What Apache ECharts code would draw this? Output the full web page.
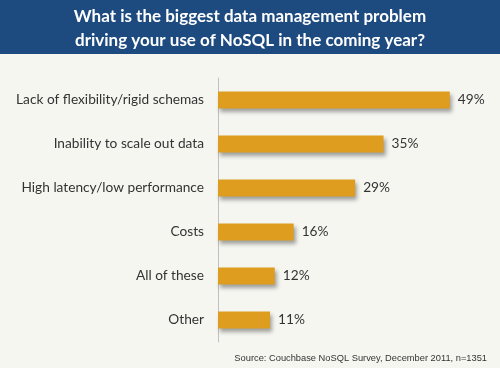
<!DOCTYPE html>
<html><head><meta charset="utf-8">
<script src="https://cdn.jsdelivr.net/npm/echarts@6/dist/echarts.min.js"></script>
<style>html,body{margin:0;padding:0;background:#f6f6f1}#c{width:500px;height:368px}</style>
</head><body><div id="c"></div>
<script>
const categories = ["Lack of flexibility/rigid schemas","Inability to scale out data","High latency/low performance","Costs","All of these","Other"];
const values = [49, 35, 29, 16, 12, 11];
const titleText = "What is the biggest data management problem\ndriving your use of NoSQL in the coming year?";
const sourceText = "Source: Couchbase NoSQL Survey, December 2011, n=1351";

const chart = echarts.init(document.getElementById('c'), null, {renderer:'canvas'});
chart.setOption({
  backgroundColor: '#f6f6f1',
  animation: false,
  graphic: [
    {type:'rect', left:0, top:0, shape:{width:500, height:54}, style:{fill:'#1d4a7f'}, z:0},
    {type:'text', left:'center', top:5, style:{text:titleText, fill:'#ffffff', font:'bold 17px Lato, "Open Sans", sans-serif', textAlign:'center', lineHeight:24}, z:1},
    {type:'text', right:13, top:354, style:{text:sourceText, fill:'#333333', font:'9.3px "Liberation Sans", Arial, sans-serif'}, z:1}
  ],
  grid: {left:218, top:78, width:236.5, height:264, containLabel:false},
  xAxis: {type:'value', min:0, max:50, show:false},
  yAxis: {
    type:'category', data:categories, inverse:true,
    axisLine:{show:true, lineStyle:{color:'#c0c0c0', width:1}},
    axisTick:{show:false},
    axisLabel:{margin:14, color:'#333333', fontSize:13.7, fontFamily:'Lato, "Open Sans", sans-serif'}
  },
  series: [{
    type:'bar', data:values, barWidth:17,
    itemStyle:{color:'#de9d1f', shadowColor:'rgba(0,0,0,0.35)', shadowBlur:4, shadowOffsetX:2, shadowOffsetY:3},
    label:{show:true, position:'right', distance:8, formatter:'{c}%', color:'#333333', fontSize:13.7, fontFamily:'Lato, "Open Sans", sans-serif'}
  }]
});
</script></body></html>
